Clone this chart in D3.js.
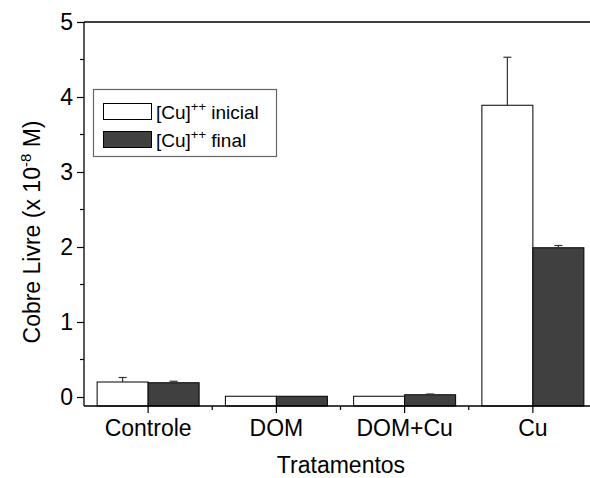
<!DOCTYPE html>
<html>
<head>
<meta charset="utf-8">
<script src="https://cdn.jsdelivr.net/npm/d3@7"></script>
<style>
  body { margin: 0; background: #fff; }
  text { font-family: "Liberation Sans", Arial, sans-serif; fill: #000; }
</style>
</head>
<body>
<script>
// data
const categories = ["Controle", "DOM", "DOM+Cu", "Cu"];
const inicial = [0.20, 0.01, 0.01, 3.89];
const inicialErr = [0.06, 0.0, 0.0, 0.64];
const final = [0.19, 0.01, 0.03, 1.99];
const finalErr = [0.02, 0.0, 0.01, 0.03];
const yTicks = [0, 1, 2, 3, 4, 5];
const seriesNames = ["inicial", "final"];

const svgWidth = 590, svgHeight = 478;
const margin = { left: 84, top: 22, right: -7, bottom: 72 };
const fs = 23;

const svg = d3.select("body").append("svg")
  .attr("width", svgWidth)
  .attr("height", svgHeight);

const plotW = svgWidth - margin.left - margin.right;
const plotH = svgHeight - margin.top - margin.bottom;

const x = d3.scaleBand()
  .domain(categories)
  .range([margin.left, margin.left + plotW])
  .paddingInner(0.2)
  .paddingOuter(0.1);

// axis floor is a bit below zero, like Origin does
const y = d3.scaleLinear()
  .domain([-0.12, 5])
  .range([margin.top + plotH, margin.top]);

const step = x.step();
const barW = 51;

const rows = categories.map((c, i) => [
  { cat: c, s: 0, v: inicial[i], e: inicialErr[i] },
  { cat: c, s: 1, v: final[i], e: finalErr[i] }
]).flat();

const bx = d => x(d.cat) + x.bandwidth() / 2 + (d.s === 0 ? -barW : 0);

// frame top line
svg.append("line")
  .attr("x1", margin.left).attr("x2", margin.left + plotW)
  .attr("y1", y(5)).attr("y2", y(5))
  .attr("stroke", "#000").attr("stroke-width", 1.3);

// bars
svg.append("g").selectAll("rect")
  .data(rows)
  .enter().append("rect")
    .attr("x", bx)
    .attr("width", barW)
    .attr("y", d => y(d.v))
    .attr("height", d => y(-0.12) - y(d.v))
    .attr("fill", d => d.s === 0 ? "#fff" : "#404040")
    .attr("stroke", "#000")
    .attr("stroke-width", 1);

// error bars (upper only)
const eg = svg.append("g").attr("stroke", "#333").attr("stroke-width", 1.2);
rows.filter(d => d.e > 0).forEach(d => {
  const cx = bx(d) + barW / 2;
  eg.append("line").attr("x1", cx).attr("x2", cx)
    .attr("y1", y(d.v)).attr("y2", y(d.v + d.e));
  eg.append("line").attr("x1", cx - 4).attr("x2", cx + 4)
    .attr("y1", y(d.v + d.e)).attr("y2", y(d.v + d.e));
});

// y axis
const yAxis = d3.axisLeft(y).tickValues(yTicks).tickSize(7).tickPadding(4)
  .tickFormat(d3.format("d"));
const gy = svg.append("g")
  .attr("transform", `translate(${margin.left},0)`)
  .call(yAxis);
gy.select(".domain").attr("d", `M0,${y(-0.12)}V${y(5)}`).attr("stroke-width", 1.3);
gy.selectAll(".tick line").attr("stroke-width", 1.2);
gy.selectAll("text").attr("font-size", fs).attr("font-family", "Liberation Sans, Arial, sans-serif");
// minor ticks
gy.selectAll(".minor")
  .data(d3.range(0.5, 5, 1))
  .enter().append("line")
    .attr("x1", -4).attr("x2", 0)
    .attr("y1", d => y(d)).attr("y2", d => y(d))
    .attr("stroke", "#000").attr("stroke-width", 1.2);

// x axis
const xAxis = d3.axisBottom(x).tickSize(7).tickPadding(7);
const gx = svg.append("g")
  .attr("transform", `translate(0,${y(-0.12)})`)
  .call(xAxis);
gx.select(".domain").attr("d", `M${margin.left},0H${margin.left + plotW}`).attr("stroke-width", 1.3);
gx.selectAll(".tick line").attr("stroke-width", 1.2);
gx.selectAll("text").attr("font-size", fs).attr("font-family", "Liberation Sans, Arial, sans-serif");
gx.selectAll(".minor")
  .data(categories.slice(0, -1))
  .enter().append("line")
    .attr("x1", d => x(d) + x.bandwidth() / 2 + step / 2)
    .attr("x2", d => x(d) + x.bandwidth() / 2 + step / 2)
    .attr("y1", 0).attr("y2", 4)
    .attr("stroke", "#000").attr("stroke-width", 1.2);

// axis titles
svg.append("text")
  .attr("x", 341).attr("y", 473)
  .attr("text-anchor", "middle").attr("font-size", fs)
  .text("Tratamentos");

const yt = svg.append("text")
  .attr("transform", `translate(40,${y(2.2)}) rotate(-90)`)
  .attr("text-anchor", "middle").attr("font-size", fs);
yt.append("tspan").text("Cobre Livre (x 10");
yt.append("tspan").attr("dy", -9).attr("font-size", 15).text("-8");
yt.append("tspan").attr("dy", 9).text(" M)");

// legend
const lg = svg.append("g");
lg.append("rect")
  .attr("x", 93.5).attr("y", 89.5).attr("width", 183).attr("height", 67)
  .attr("fill", "#fff").attr("stroke", "#666").attr("stroke-width", 1.2);
seriesNames.forEach((name, i) => {
  const yy = 103 + i * 28;
  lg.append("rect")
    .attr("x", 103.5).attr("y", yy + 0.5).attr("width", 48).attr("height", 16)
    .attr("fill", i === 0 ? "#fff" : "#404040").attr("stroke", "#000");
  const t = lg.append("text").attr("x", 156).attr("y", yy + 16).attr("font-size", 19);
  t.append("tspan").text("[Cu]");
  t.append("tspan").attr("dy", -8).attr("font-size", 13).text("++");
  t.append("tspan").attr("dy", 8).text(" " + name);
});
</script>
</body>
</html>
